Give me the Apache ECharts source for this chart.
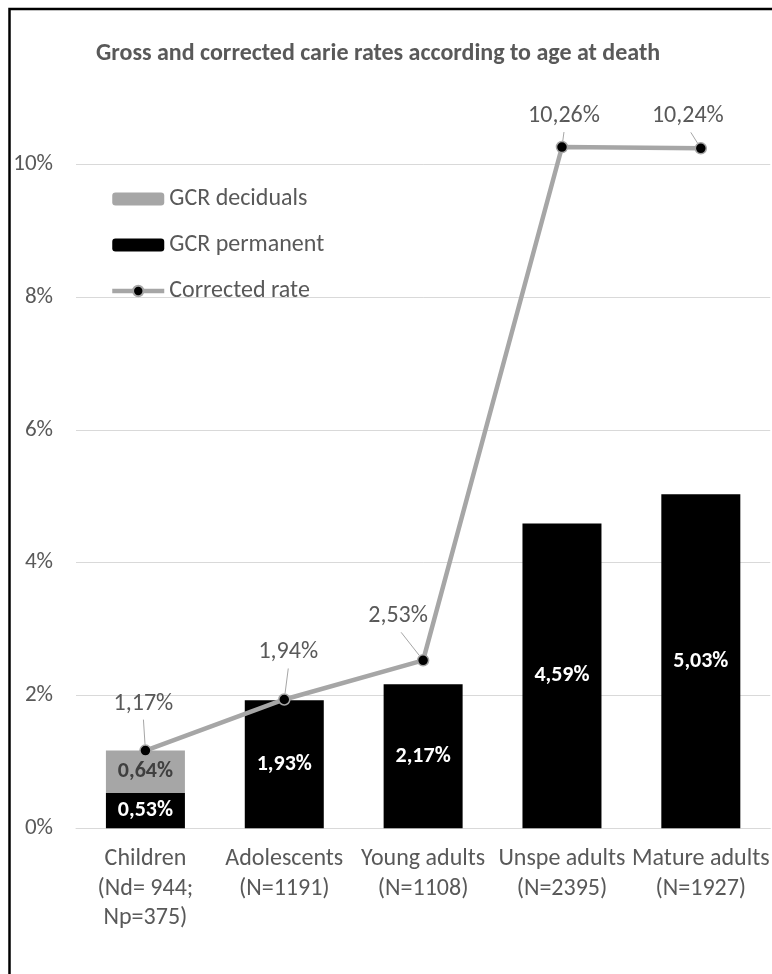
<!DOCTYPE html>
<html>
<head>
<meta charset="utf-8">
<script src="https://cdn.jsdelivr.net/npm/echarts@6/dist/echarts.min.js"></script>
<style>
  html, body { margin: 0; padding: 0; background: #ffffff; }
  #chart { width: 772px; height: 974px; }
</style>
</head>
<body>
<div id="chart"></div>
<script>
var categories = [
  'Children\n(Nd= 944;\nNp=375)',
  'Adolescents\n(N=1191)',
  'Young adults\n(N=1108)',
  'Unspe adults\n(N=2395)',
  'Mature adults\n(N=1927)'
];
var gcrPermanent = [0.53, 1.93, 2.17, 4.59, 5.03];
var gcrDeciduals = [0.64, null, null, null, null];
var correctedRate = [1.17, 1.94, 2.53, 10.26, 10.24];
var yTicks = [0, 2, 4, 6, 8, 10];
// pixel shift of each corrected-rate data label from its point (Excel-style leader lines)
var lineLabelShift = [[-2, -47], [4, -47], [-25, -44], [2, -31], [-13, -32]];

var FONT = "Carlito, Lato, sans-serif";
var TXT = '#595959';

function pct(v) { return v.toFixed(2).replace('.', ',') + '%'; }

var chart = echarts.init(document.getElementById('chart'), null, { renderer: 'canvas' });
chart.setOption({
  backgroundColor: '#ffffff',
  animation: false,
  textStyle: { fontFamily: FONT },
  title: {
    text: 'Gross and corrected carie rates according to age at death',
    left: 96, top: 42, padding: 0,
    textStyle: { fontFamily: FONT, fontSize: 24, fontWeight: 'bold', color: TXT }
  },
  legend: {
    orient: 'vertical',
    left: 110, top: 187,
    padding: 0,
    itemWidth: 52, itemHeight: 13, itemGap: 22,
    data: ['GCR deciduals', 'GCR permanent', 'Corrected rate'],
    lineStyle: { width: 4.5 },
    textStyle: { fontFamily: FONT, fontSize: 24, color: TXT, lineHeight: 24, padding: [0, 0, 0, 0] }
  },
  grid: { left: 76, top: 164.3, width: 700, height: 664 },
  xAxis: {
    type: 'category',
    data: categories,
    axisLine: { show: true, lineStyle: { color: '#d9d9d9', width: 1 } },
    axisTick: { show: false },
    axisLabel: { color: TXT, fontFamily: FONT, fontSize: 24, lineHeight: 29.5, margin: 16, interval: 0 }
  },
  yAxis: {
    type: 'value',
    min: 0, max: 10, interval: 2,
    axisLine: { show: false },
    axisTick: { show: false },
    splitLine: { lineStyle: { color: '#d9d9d9', width: 1 } },
    axisLabel: {
      color: TXT, fontFamily: FONT, fontSize: 23, margin: 23,
      formatter: function (v) { return yTicks.indexOf(v) >= 0 ? v + '%' : ''; }
    }
  },
  graphic: [{
    type: 'rect', z: 100, silent: true,
    shape: { x: 9.5, y: 9, width: 900, height: 1100 },
    style: { fill: 'none', stroke: '#000000', lineWidth: 2.5 }
  }],
  series: [
    {
      name: 'GCR permanent', type: 'bar', stack: 'gcr', barWidth: 79,
      data: gcrPermanent,
      itemStyle: { color: '#000000' },
      label: {
        show: true, position: 'inside', color: '#ffffff', fontFamily: FONT,
        fontSize: 22, fontWeight: 'bold',
        formatter: function (p) { return pct(p.value); }
      }
    },
    {
      name: 'GCR deciduals', type: 'bar', stack: 'gcr', barWidth: 79,
      data: gcrDeciduals,
      itemStyle: { color: '#a6a6a6' },
      label: {
        show: true, position: 'inside', color: '#404040', fontFamily: FONT,
        fontSize: 22, fontWeight: 'bold',
        formatter: function (p) { return p.value == null ? '' : pct(p.value); }
      }
    },
    {
      name: 'leader', type: 'custom', z: 4, silent: true,
      data: correctedRate.map(function (v, i) { return [i, v]; }),
      renderItem: function (params, api) {
        var i = api.value(0);
        var p = api.coord([i, api.value(1)]);
        var s = lineLabelShift[i];
        var sx = p[0] + s[0] + (s[0] < -5 ? 3 : 0), sy = p[1] + s[1] + 16;
        var dx = p[0] - sx, dy = p[1] - sy;
        var len = Math.sqrt(dx * dx + dy * dy) || 1;
        var ex = p[0] - dx / len * 6, ey = p[1] - dy / len * 6;
        return {
          type: 'line',
          shape: { x1: sx, y1: sy, x2: ex, y2: ey },
          style: { stroke: '#a6a6a6', lineWidth: 1 }
        };
      }
    },
    {
      name: 'Corrected rate', type: 'line', clip: false, z: 5,
      data: correctedRate,
      symbol: 'circle', symbolSize: 11,
      lineStyle: { color: '#a6a6a6', width: 4.5 },
      itemStyle: { color: '#000000', borderColor: '#a6a6a6', borderWidth: 1.5 },
      label: {
        show: true, position: 'inside', color: TXT, fontFamily: FONT, fontSize: 24,
        formatter: function (p) { return pct(p.value); }
      },
      labelLayout: function (params) {
        var s = lineLabelShift[params.dataIndex];
        return { dx: s[0], dy: s[1] };
      }
    }
  ]
});
</script>
</body>
</html>
